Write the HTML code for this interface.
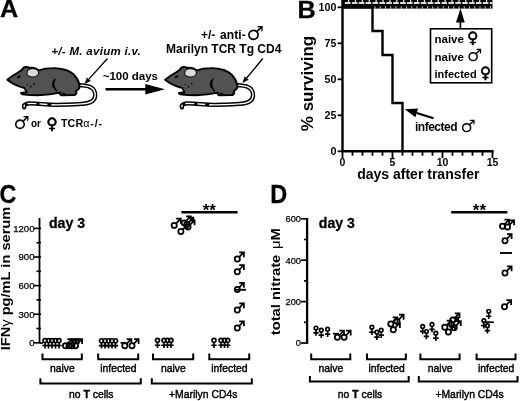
<!DOCTYPE html>
<html lang="en"><head><meta charset="utf-8"><title>Figure</title>
<style>html,body{margin:0;padding:0;background:#fff;}body{width:520px;height:401px;overflow:hidden;position:relative;}svg{position:absolute;left:0;top:0;display:block;}text{font-family:'Liberation Sans', 'DejaVu Sans', sans-serif;fill:#000;}</style>
</head><body>
<svg width="520" height="401" viewBox="0 0 520 401">
<rect x="0" y="0" width="520" height="401" fill="#fff"/>
<!-- Panel A -->
<text transform="translate(0.1,17.2) scale(1.04,1)" font-size="24.2" font-weight="bold" stroke="#000" stroke-width="0.3">A</text>
<text x="51.3" y="54.5" font-size="11.5" font-weight="bold" text-anchor="start" font-style="italic" letter-spacing="0.3">+/- M. avium i.v.</text>
<text x="102.7" y="80.4" font-size="11.5" font-weight="bold" text-anchor="start">~100 days</text>
<path d="M105.5,89.2 H147" stroke="#000" stroke-width="2.4" fill="none"/>
<path d="M145.3,84 L165,89.2 L145.3,94.4 Z" fill="#000"/>
<path d="M107.50,58.50 L88.85,79.17" stroke="#000" stroke-width="1.3" fill="none"/><path d="M84.50,84.00 L86.92,77.43 L90.78,80.91 Z" fill="#000"/>
<path d="M262.80,58.50 L246.65,77.99" stroke="#000" stroke-width="1.3" fill="none"/><path d="M242.50,83.00 L244.65,76.34 L248.65,79.65 Z" fill="#000"/>
<g transform="translate(0,0)"><path d="M78.5,85.2 C84,85.4 88,86 90.5,87.2 C94,89 95.4,92 95.2,95.6 C95,100.6 90,103.4 82,103.9 C70,104.6 60,105.2 50,104.7 C42,104.2 34,103.2 28.5,103.5 C25,103.9 23.4,105.4 24.2,107.4" fill="none" stroke="#000" stroke-width="4.3" stroke-linecap="round"/><path d="M78.5,85.2 C84,85.4 88,86 90.5,87.2 C94,89 95.4,92 95.2,95.6 C95,100.6 90,103.4 82,103.9 C70,104.6 60,105.2 50,104.7 C42,104.2 34,103.2 28.5,103.5 C25,103.9 23.4,105.4 24.2,107.4" fill="none" stroke="#fff" stroke-width="1.3" stroke-linecap="butt" stroke-dasharray="70 4 8 3 9 3 8 3 40"/><path d="M7.3,79.7 C10,77.5 14,74.6 18,72.5 L22.2,69.6 C22.8,67.8 24.6,66.8 26.8,67 C28,67 28.8,67.4 29.4,68 C31.5,67.4 36,67.6 38.7,70.4 C43,69 48,68.1 52.5,68.1 C57,68 62,68.6 66,70 C69,71 71.5,72.4 73.4,74.2 C76,76.8 78.4,80.4 79.4,84.4 C80,87.6 78.6,89.8 76.2,90.6 C76.6,92.4 76.4,94.4 74.6,95 L62.4,95.4 C60,95.4 59.4,93.6 60.4,92.6 C55,93.8 46,95 38,95.2 L30,95.1 L22.4,94.3 L21,93 L26.8,92.2 C26,91 25.2,89.6 24.6,88.2 C18.6,86.4 11.6,83.4 7.3,79.7 Z" fill="#525252" stroke="#000" stroke-width="1.9" stroke-linejoin="round"/><path d="M27.4,75.4 C26.2,72 27.6,69.2 31.5,68.8 C35.2,68.4 38.8,70 38.6,73 C38.4,76 34,77.4 31,76.9 Z" fill="#dadada" stroke="#000" stroke-width="1"/><ellipse cx="18.8" cy="76.8" rx="1.9" ry="1.2" fill="#000" transform="rotate(-28 18.8 76.8)"/><path d="M55.2,78.6 C53,82.6 53.4,87.6 57,91.4 M53.6,80.6 C52.4,83.6 52.6,86 53.4,87.6" fill="none" stroke="#000" stroke-width="1.4"/><path d="M33,83.4 l1.6,0.9 M30,86.4 l1.4,0.7 M27,84.5 l1,0.5" stroke="#000" stroke-width="1.2"/><path d="M62,92.4 L66,93.4 L63,96.2 Z" fill="#000"/></g>
<g transform="translate(157.8,0)"><path d="M78.5,85.2 C84,85.4 88,86 90.5,87.2 C94,89 95.4,92 95.2,95.6 C95,100.6 90,103.4 82,103.9 C70,104.6 60,105.2 50,104.7 C42,104.2 34,103.2 28.5,103.5 C25,103.9 23.4,105.4 24.2,107.4" fill="none" stroke="#000" stroke-width="4.3" stroke-linecap="round"/><path d="M78.5,85.2 C84,85.4 88,86 90.5,87.2 C94,89 95.4,92 95.2,95.6 C95,100.6 90,103.4 82,103.9 C70,104.6 60,105.2 50,104.7 C42,104.2 34,103.2 28.5,103.5 C25,103.9 23.4,105.4 24.2,107.4" fill="none" stroke="#fff" stroke-width="1.3" stroke-linecap="butt" stroke-dasharray="70 4 8 3 9 3 8 3 40"/><path d="M7.3,79.7 C10,77.5 14,74.6 18,72.5 L22.2,69.6 C22.8,67.8 24.6,66.8 26.8,67 C28,67 28.8,67.4 29.4,68 C31.5,67.4 36,67.6 38.7,70.4 C43,69 48,68.1 52.5,68.1 C57,68 62,68.6 66,70 C69,71 71.5,72.4 73.4,74.2 C76,76.8 78.4,80.4 79.4,84.4 C80,87.6 78.6,89.8 76.2,90.6 C76.6,92.4 76.4,94.4 74.6,95 L62.4,95.4 C60,95.4 59.4,93.6 60.4,92.6 C55,93.8 46,95 38,95.2 L30,95.1 L22.4,94.3 L21,93 L26.8,92.2 C26,91 25.2,89.6 24.6,88.2 C18.6,86.4 11.6,83.4 7.3,79.7 Z" fill="#525252" stroke="#000" stroke-width="1.9" stroke-linejoin="round"/><path d="M27.4,75.4 C26.2,72 27.6,69.2 31.5,68.8 C35.2,68.4 38.8,70 38.6,73 C38.4,76 34,77.4 31,76.9 Z" fill="#dadada" stroke="#000" stroke-width="1"/><ellipse cx="18.8" cy="76.8" rx="1.9" ry="1.2" fill="#000" transform="rotate(-28 18.8 76.8)"/><path d="M55.2,78.6 C53,82.6 53.4,87.6 57,91.4 M53.6,80.6 C52.4,83.6 52.6,86 53.4,87.6" fill="none" stroke="#000" stroke-width="1.4"/><path d="M33,83.4 l1.6,0.9 M30,86.4 l1.4,0.7 M27,84.5 l1,0.5" stroke="#000" stroke-width="1.2"/><path d="M62,92.4 L66,93.4 L63,96.2 Z" fill="#000"/></g>
<text x="13.4" y="128.6" font-size="18" style="font-family:'DejaVu Sans',sans-serif">♂</text>
<text x="31" y="127" font-size="10" font-weight="bold" text-anchor="start">or</text>
<text x="46.2" y="128.6" font-size="15.5" font-weight="bold" stroke="#000" stroke-width="0.7" style="font-family:'DejaVu Sans',sans-serif">♀</text>
<text x="61" y="127" font-size="10.8" font-weight="bold">TCR<tspan font-weight="normal" letter-spacing="0.7">α</tspan><tspan letter-spacing="0.9">-/-</tspan></text>
<text x="201" y="38.7" font-size="12" font-weight="bold">+/- <tspan dx="1.4" letter-spacing="0.1">anti-</tspan><tspan font-size="19.5" dy="1.3" dx="0.6" font-weight="normal" font-family="DejaVu Sans">♂</tspan></text>
<text x="166" y="52.5" font-size="12" font-weight="bold" text-anchor="start">Marilyn TCR Tg CD4</text>
<!-- Panel B -->
<text transform="translate(297.6,17.7) scale(1.08,1)" font-size="23.4" font-weight="bold" stroke="#000" stroke-width="0.3">B</text>
<rect x="342" y="0" width="150.5" height="8.6" fill="#000"/>
<path d="M344.9,3 H492.5" stroke="#dcdcdc" stroke-width="1.9" stroke-dasharray="5.6 1.3" fill="none"/>
<path d="M347.9,1 H492.5" stroke="#d8d8d8" stroke-width="2" stroke-dasharray="1.3 5.6" fill="none"/>
<path d="M374.5,7.5 H492.5" stroke="#c8c8c8" stroke-width="2.3" stroke-dasharray="1 4.25" fill="none"/>
<path d="M342.5,0 V151.2 H493.6" fill="none" stroke="#000" stroke-width="2.4"/>
<path d="M337.6,7.3 H343" stroke="#000" stroke-width="1.8"/>
<text x="336.4" y="10.9" font-size="10.7" font-weight="bold" text-anchor="end">100</text>
<path d="M337.6,43.3 H343" stroke="#000" stroke-width="1.8"/>
<text x="336.4" y="46.9" font-size="10.7" font-weight="bold" text-anchor="end">75</text>
<path d="M337.6,79.3 H343" stroke="#000" stroke-width="1.8"/>
<text x="336.4" y="82.9" font-size="10.7" font-weight="bold" text-anchor="end">50</text>
<path d="M337.6,115.3 H343" stroke="#000" stroke-width="1.8"/>
<text x="336.4" y="118.9" font-size="10.7" font-weight="bold" text-anchor="end">25</text>
<path d="M337.6,151.3 H343" stroke="#000" stroke-width="1.8"/>
<text x="336.4" y="154.9" font-size="10.7" font-weight="bold" text-anchor="end">0</text>
<path d="M342.5,151 V158.2" stroke="#000" stroke-width="1.8"/>
<path d="M352.5,151 V155.7" stroke="#000" stroke-width="1.8"/>
<path d="M362.5,151 V155.7" stroke="#000" stroke-width="1.8"/>
<path d="M372.5,151 V155.7" stroke="#000" stroke-width="1.8"/>
<path d="M382.5,151 V155.7" stroke="#000" stroke-width="1.8"/>
<path d="M392.5,151 V158.2" stroke="#000" stroke-width="1.8"/>
<path d="M402.5,151 V155.7" stroke="#000" stroke-width="1.8"/>
<path d="M412.5,151 V155.7" stroke="#000" stroke-width="1.8"/>
<path d="M422.5,151 V155.7" stroke="#000" stroke-width="1.8"/>
<path d="M432.5,151 V155.7" stroke="#000" stroke-width="1.8"/>
<path d="M442.5,151 V158.2" stroke="#000" stroke-width="1.8"/>
<path d="M452.5,151 V155.7" stroke="#000" stroke-width="1.8"/>
<path d="M462.5,151 V155.7" stroke="#000" stroke-width="1.8"/>
<path d="M472.5,151 V155.7" stroke="#000" stroke-width="1.8"/>
<path d="M482.5,151 V155.7" stroke="#000" stroke-width="1.8"/>
<path d="M492.5,151 V158.2" stroke="#000" stroke-width="1.8"/>
<text x="342.5" y="165.8" font-size="10.5" font-weight="bold" text-anchor="middle">0</text>
<text x="392.5" y="165.8" font-size="10.5" font-weight="bold" text-anchor="middle">5</text>
<text x="442.5" y="165.8" font-size="10.5" font-weight="bold" text-anchor="middle">10</text>
<text x="492.5" y="165.8" font-size="10.5" font-weight="bold" text-anchor="middle">15</text>
<path d="M342.5,7.2 H372.5 V31 H382.5 V55 H392.5 V103 H402.5 V151" fill="none" stroke="#000" stroke-width="2.4" stroke-linejoin="miter"/>
 <text transform="translate(313,83.5) rotate(-90)" font-size="17" font-weight="bold" text-anchor="middle">% surviving</text>
<text x="418.3" y="178.7" font-size="14" font-weight="bold" text-anchor="middle">days after transfer</text>
<rect x="430.5" y="28.8" width="61.2" height="54" fill="#fff" stroke="#000" stroke-width="1.6"/>
<path d="M460.4,28.8 V21" stroke="#000" stroke-width="1.7"/>
<path d="M460.4,8.6 L464.8,22.4 L456,22.4 Z" fill="#000"/>
<text x="434.5" y="43" font-size="11.5" font-weight="bold">naive <tspan font-size="15.5" font-family="DejaVu Sans" stroke="#000" stroke-width="0.6">♀</tspan></text>
<text x="434.5" y="61" font-size="11.5" font-weight="bold">naive <tspan font-size="17" font-weight="normal" font-family="DejaVu Sans">♂</tspan></text>
<text x="434.5" y="77.5" font-size="11" font-weight="bold">infected <tspan font-size="15.5" font-family="DejaVu Sans" stroke="#000" stroke-width="0.6">♀</tspan></text>
<text x="415" y="130.8" font-size="12" font-weight="bold" letter-spacing="-0.5">infected <tspan dy="1.6" dx="0.6" font-size="17" font-weight="normal" font-family="DejaVu Sans">♂</tspan></text>
<path d="M433.50,118.20 L416.73,112.94" stroke="#000" stroke-width="2.2" fill="none"/><path d="M404.80,109.20 L418.10,108.55 L415.35,117.33 Z" fill="#000"/>
<!-- Panel C -->
<text transform="translate(-0.4,203.1) scale(0.93,1)" font-size="25" font-weight="bold" stroke="#000" stroke-width="0.3">C</text>
<path d="M39.5,218 V343" stroke="#000" stroke-width="1.8" fill="none"/>
<path d="M34,342.8 H41" stroke="#000" stroke-width="1.6"/>
<text x="34.5" y="346.1" font-size="9.6" font-weight="normal" text-anchor="end" stroke="#000" stroke-width="0.25">0</text>
<path d="M36.4,328.5 H41" stroke="#000" stroke-width="1.6"/>
<path d="M34,314.2 H41" stroke="#000" stroke-width="1.6"/>
<text x="34.5" y="317.5" font-size="9.6" font-weight="normal" text-anchor="end" stroke="#000" stroke-width="0.25">300</text>
<path d="M36.4,299.9 H41" stroke="#000" stroke-width="1.6"/>
<path d="M34,285.6 H41" stroke="#000" stroke-width="1.6"/>
<text x="34.5" y="288.9" font-size="9.6" font-weight="normal" text-anchor="end" stroke="#000" stroke-width="0.25">600</text>
<path d="M36.4,271.3 H41" stroke="#000" stroke-width="1.6"/>
<path d="M34,257.0 H41" stroke="#000" stroke-width="1.6"/>
<text x="34.5" y="260.3" font-size="9.6" font-weight="normal" text-anchor="end" stroke="#000" stroke-width="0.25">900</text>
<path d="M36.4,242.7 H41" stroke="#000" stroke-width="1.6"/>
<path d="M34,228.4 H41" stroke="#000" stroke-width="1.6"/>
<text x="34.5" y="231.7" font-size="9.6" font-weight="normal" text-anchor="end" stroke="#000" stroke-width="0.25">1200</text>
<path d="M39.5,343 H43" stroke="#000" stroke-width="1.6"/>
<text transform="translate(10,278.5) rotate(-90) scale(1.22,1)" font-size="12" font-weight="bold" text-anchor="middle">IFN<tspan font-weight="normal">γ</tspan> pg/mL in serum</text>
<text x="49" y="227.7" font-size="14.1" font-weight="bold" text-anchor="start" stroke="#000" stroke-width="0.3">day 3</text>
<path d="M181.4,212.2 H237.6" stroke="#000" stroke-width="2.5"/>
<text x="209.3" y="216" font-size="17" font-weight="bold" text-anchor="middle">**</text>
<g fill="none" stroke="#000" stroke-width="1.65"><circle cx="45.00" cy="340.60" r="2.00"/><path d="M45.00,342.40 V348.40 M42.30,345.50 H47.70"/></g>
<g fill="none" stroke="#000" stroke-width="1.65"><circle cx="48.50" cy="340.60" r="2.00"/><path d="M48.50,342.40 V348.40 M45.80,345.50 H51.20"/></g>
<g fill="none" stroke="#000" stroke-width="1.65"><circle cx="52.00" cy="340.60" r="2.00"/><path d="M52.00,342.40 V348.40 M49.30,345.50 H54.70"/></g>
<g fill="none" stroke="#000" stroke-width="1.65"><circle cx="55.50" cy="340.60" r="2.00"/><path d="M55.50,342.40 V348.40 M52.80,345.50 H58.20"/></g>
<g fill="none" stroke="#000" stroke-width="1.65"><circle cx="59.00" cy="340.60" r="2.00"/><path d="M59.00,342.40 V348.40 M56.30,345.50 H61.70"/></g>
<g fill="none" stroke="#000" stroke-width="1.75"><circle cx="65.50" cy="345.70" r="2.60"/><path d="M67.30,343.90 L71.50,339.40 M67.40,339.00 H72.10 V344.00"/></g>
<g fill="none" stroke="#000" stroke-width="1.75"><circle cx="69.00" cy="345.70" r="2.60"/><path d="M70.80,343.90 L75.00,339.40 M70.90,339.00 H75.60 V344.00"/></g>
<g fill="none" stroke="#000" stroke-width="1.75"><circle cx="72.00" cy="345.70" r="2.60"/><path d="M73.80,343.90 L78.00,339.40 M73.90,339.00 H78.60 V344.00"/></g>
<g fill="none" stroke="#000" stroke-width="1.75"><circle cx="75.50" cy="345.70" r="2.60"/><path d="M77.30,343.90 L81.50,339.40 M77.40,339.00 H82.10 V344.00"/></g>
<g fill="none" stroke="#000" stroke-width="1.65"><circle cx="101.50" cy="340.70" r="2.00"/><path d="M101.50,342.50 V348.50 M98.80,345.60 H104.20"/></g>
<g fill="none" stroke="#000" stroke-width="1.65"><circle cx="105.00" cy="340.70" r="2.00"/><path d="M105.00,342.50 V348.50 M102.30,345.60 H107.70"/></g>
<g fill="none" stroke="#000" stroke-width="1.65"><circle cx="108.50" cy="340.70" r="2.00"/><path d="M108.50,342.50 V348.50 M105.80,345.60 H111.20"/></g>
<g fill="none" stroke="#000" stroke-width="1.65"><circle cx="112.00" cy="340.70" r="2.00"/><path d="M112.00,342.50 V348.50 M109.30,345.60 H114.70"/></g>
<g fill="none" stroke="#000" stroke-width="1.65"><circle cx="115.50" cy="340.70" r="2.00"/><path d="M115.50,342.50 V348.50 M112.80,345.60 H118.20"/></g>
<g fill="none" stroke="#000" stroke-width="1.75"><circle cx="124.80" cy="345.70" r="2.60"/><path d="M126.60,343.90 L130.80,339.40 M126.70,339.00 H131.40 V344.00"/></g>
<g fill="none" stroke="#000" stroke-width="1.75"><circle cx="132.00" cy="345.70" r="2.60"/><path d="M133.80,343.90 L138.00,339.40 M133.90,339.00 H138.60 V344.00"/></g>
<path d="M120.5,342.8 H125.8" stroke="#000" stroke-width="1.8"/>
<g fill="none" stroke="#000" stroke-width="1.65"><circle cx="157.50" cy="340.30" r="2.00"/><path d="M157.50,342.10 V348.10 M154.80,345.20 H160.20"/></g>
<g fill="none" stroke="#000" stroke-width="1.65"><circle cx="164.00" cy="340.30" r="2.00"/><path d="M164.00,342.10 V348.10 M161.30,345.20 H166.70"/></g>
<g fill="none" stroke="#000" stroke-width="1.65"><circle cx="167.50" cy="340.30" r="2.00"/><path d="M167.50,342.10 V348.10 M164.80,345.20 H170.20"/></g>
<g fill="none" stroke="#000" stroke-width="1.65"><circle cx="171.00" cy="340.30" r="2.00"/><path d="M171.00,342.10 V348.10 M168.30,345.20 H173.70"/></g>
<g fill="none" stroke="#000" stroke-width="1.65"><circle cx="214.00" cy="340.30" r="2.00"/><path d="M214.00,342.10 V348.10 M211.30,345.20 H216.70"/></g>
<g fill="none" stroke="#000" stroke-width="1.65"><circle cx="221.00" cy="340.30" r="2.00"/><path d="M221.00,342.10 V348.10 M218.30,345.20 H223.70"/></g>
<g fill="none" stroke="#000" stroke-width="1.65"><circle cx="224.50" cy="340.30" r="2.00"/><path d="M224.50,342.10 V348.10 M221.80,345.20 H227.20"/></g>
<g fill="none" stroke="#000" stroke-width="1.65"><circle cx="227.70" cy="340.30" r="2.00"/><path d="M227.70,342.10 V348.10 M225.00,345.20 H230.40"/></g>
<g fill="none" stroke="#000" stroke-width="1.75"><circle cx="174.20" cy="225.40" r="2.60"/><path d="M176.00,223.60 L180.20,219.10 M176.10,218.70 H180.80 V223.70"/></g>
<g fill="none" stroke="#000" stroke-width="1.75"><circle cx="180.90" cy="231.50" r="2.60"/><path d="M182.70,229.70 L186.90,225.20 M182.80,224.80 H187.50 V229.80"/></g>
<g fill="none" stroke="#000" stroke-width="1.75"><circle cx="184.20" cy="223.00" r="2.60"/><path d="M186.00,221.20 L190.20,216.70 M186.10,216.30 H190.80 V221.30"/></g>
<g fill="none" stroke="#000" stroke-width="1.75"><circle cx="188.00" cy="227.00" r="2.60"/><path d="M189.80,225.20 L194.00,220.70 M189.90,220.30 H194.60 V225.30"/></g>
<g fill="none" stroke="#000" stroke-width="1.75"><circle cx="186.80" cy="224.40" r="2.60"/><path d="M188.60,222.60 L192.80,218.10 M188.70,217.70 H193.40 V222.70"/></g>
<g fill="none" stroke="#000" stroke-width="1.75"><circle cx="237.30" cy="259.00" r="2.60"/><path d="M239.10,257.20 L243.30,252.70 M239.20,252.30 H243.90 V257.30"/></g>
<g fill="none" stroke="#000" stroke-width="1.75"><circle cx="237.30" cy="271.80" r="2.60"/><path d="M239.10,270.00 L243.30,265.50 M239.20,265.10 H243.90 V270.10"/></g>
<g fill="none" stroke="#000" stroke-width="1.75"><circle cx="237.30" cy="289.50" r="2.60"/><path d="M239.10,287.70 L243.30,283.20 M239.20,282.80 H243.90 V287.80"/></g>
<g fill="none" stroke="#000" stroke-width="1.75"><circle cx="237.30" cy="310.00" r="2.60"/><path d="M239.10,308.20 L243.30,303.70 M239.20,303.30 H243.90 V308.30"/></g>
<g fill="none" stroke="#000" stroke-width="1.75"><circle cx="237.30" cy="328.00" r="2.60"/><path d="M239.10,326.20 L243.30,321.70 M239.20,321.30 H243.90 V326.30"/></g>
<path d="M234,289.8 H246" stroke="#000" stroke-width="1.9"/>
<path d="M42.5,353.59999999999997 V359.2 H81.8 V353.59999999999997" fill="none" stroke="#000" stroke-width="2.0"/>
<text transform="translate(62.4,372.2) scale(1,1.12)" font-size="10.4" text-anchor="middle" stroke="#000" stroke-width="0.4">naive</text>
<path d="M98.2,353.59999999999997 V359.2 H138.2 V353.59999999999997" fill="none" stroke="#000" stroke-width="2.0"/>
<text transform="translate(118.4,372.2) scale(1,1.12)" font-size="10.4" text-anchor="middle" stroke="#000" stroke-width="0.4">infected</text>
<path d="M153,353.59999999999997 V359.2 H193.2 V353.59999999999997" fill="none" stroke="#000" stroke-width="2.0"/>
<text transform="translate(173.3,372.2) scale(1,1.12)" font-size="10.4" text-anchor="middle" stroke="#000" stroke-width="0.4">naive</text>
<path d="M209.3,353.59999999999997 V359.2 H249.2 V353.59999999999997" fill="none" stroke="#000" stroke-width="2.0"/>
<text transform="translate(229.4,372.2) scale(1,1.12)" font-size="10.4" text-anchor="middle" stroke="#000" stroke-width="0.4">infected</text>
<path d="M40.4,378.20000000000005 V383.6 H140.8 V378.20000000000005" fill="none" stroke="#000" stroke-width="2.0"/>
<path d="M151.8,378.20000000000005 V383.6 H251.8 V378.20000000000005" fill="none" stroke="#000" stroke-width="2.0"/>
<text transform="translate(91.3,398.2) scale(1,1.06)" font-size="10.4" text-anchor="middle" stroke="#000" stroke-width="0.4">no <tspan font-weight="bold">T</tspan> cells</text>
<text transform="translate(203.2,398.2) scale(1,1.06)" font-size="10.4" text-anchor="middle" stroke="#000" stroke-width="0.4">+Marilyn CD4s</text>
<!-- Panel D -->
<text transform="translate(270.2,203.1) scale(0.92,1)" font-size="25.5" font-weight="bold" stroke="#000" stroke-width="0.3">D</text>
<path d="M307.1,218 V343.9" stroke="#000" stroke-width="2.3" fill="none"/>
<path d="M301,343.0 H307.2" stroke="#000" stroke-width="1.7"/>
<text x="301" y="346.3" font-size="9.3" font-weight="normal" text-anchor="end" stroke="#000" stroke-width="0.25">0</text>
<path d="M304,322.3 H307.2" stroke="#000" stroke-width="1.7"/>
<path d="M301,301.6 H307.2" stroke="#000" stroke-width="1.7"/>
<text x="301" y="304.9" font-size="9.3" font-weight="normal" text-anchor="end" stroke="#000" stroke-width="0.25">200</text>
<path d="M304,280.9 H307.2" stroke="#000" stroke-width="1.7"/>
<path d="M301,260.2 H307.2" stroke="#000" stroke-width="1.7"/>
<text x="301" y="263.5" font-size="9.3" font-weight="normal" text-anchor="end" stroke="#000" stroke-width="0.25">400</text>
<path d="M304,239.5 H307.2" stroke="#000" stroke-width="1.7"/>
<path d="M301,218.8 H307.2" stroke="#000" stroke-width="1.7"/>
<text x="301" y="222.1" font-size="9.3" font-weight="normal" text-anchor="end" stroke="#000" stroke-width="0.25">600</text>
<text transform="translate(280.4,335.3) rotate(-90) scale(1.235,1)" font-size="12" font-weight="bold" text-anchor="start">total nitrate <tspan font-weight="normal" dx="1.2">μ</tspan>M</text>
<text x="318.8" y="228" font-size="14.1" font-weight="bold" text-anchor="start" stroke="#000" stroke-width="0.3">day 3</text>
<path d="M451.2,212.2 H507.4" stroke="#000" stroke-width="2.5"/>
<text x="479.4" y="216.2" font-size="17" font-weight="bold" text-anchor="middle">**</text>
<g fill="none" stroke="#000" stroke-width="1.65"><circle cx="316.00" cy="328.00" r="1.80"/><path d="M316.00,329.80 V335.80 M313.30,332.90 H318.70"/></g>
<g fill="none" stroke="#000" stroke-width="1.65"><circle cx="321.30" cy="330.20" r="1.80"/><path d="M321.30,332.00 V338.00 M318.60,335.10 H324.00"/></g>
<g fill="none" stroke="#000" stroke-width="1.65"><circle cx="327.60" cy="329.20" r="1.80"/><path d="M327.60,331.00 V337.00 M324.90,334.10 H330.30"/></g>
<g fill="none" stroke="#000" stroke-width="1.75"><circle cx="337.40" cy="337.30" r="2.60"/><path d="M339.20,335.50 L343.40,331.00 M339.30,330.60 H344.00 V335.60"/></g>
<g fill="none" stroke="#000" stroke-width="1.75"><circle cx="344.10" cy="337.30" r="2.60"/><path d="M345.90,335.50 L350.10,331.00 M346.00,330.60 H350.70 V335.60"/></g>
<path d="M333,333.7 H339" stroke="#000" stroke-width="1.8"/>
<g fill="none" stroke="#000" stroke-width="1.65"><circle cx="371.90" cy="327.20" r="1.80"/><path d="M371.90,329.00 V335.00 M369.20,332.10 H374.60"/></g>
<g fill="none" stroke="#000" stroke-width="1.65"><circle cx="376.90" cy="332.20" r="1.80"/><path d="M376.90,334.00 V340.00 M374.20,337.10 H379.60"/></g>
<g fill="none" stroke="#000" stroke-width="1.65"><circle cx="381.20" cy="330.20" r="1.80"/><path d="M381.20,332.00 V338.00 M378.50,335.10 H383.90"/></g>
<g fill="none" stroke="#000" stroke-width="1.75"><circle cx="390.80" cy="324.00" r="2.60"/><path d="M392.60,322.20 L396.80,317.70 M392.70,317.30 H397.40 V322.30"/></g>
<g fill="none" stroke="#000" stroke-width="1.75"><circle cx="393.30" cy="329.70" r="2.60"/><path d="M395.10,327.90 L399.30,323.40 M395.20,323.00 H399.90 V328.00"/></g>
<g fill="none" stroke="#000" stroke-width="1.75"><circle cx="397.00" cy="321.40" r="2.60"/><path d="M398.80,319.60 L403.00,315.10 M398.90,314.70 H403.60 V319.70"/></g>
<g fill="none" stroke="#000" stroke-width="1.65"><circle cx="422.70" cy="326.40" r="1.80"/><path d="M422.70,328.20 V334.20 M420.00,331.30 H425.40"/></g>
<g fill="none" stroke="#000" stroke-width="1.65"><circle cx="426.40" cy="331.50" r="1.80"/><path d="M426.40,333.30 V339.30 M423.70,336.40 H429.10"/></g>
<g fill="none" stroke="#000" stroke-width="1.65"><circle cx="432.00" cy="324.40" r="1.80"/><path d="M432.00,326.20 V332.20 M429.30,329.30 H434.70"/></g>
<g fill="none" stroke="#000" stroke-width="1.65"><circle cx="435.80" cy="333.20" r="1.80"/><path d="M435.80,335.00 V341.00 M433.10,338.10 H438.50"/></g>
<g fill="none" stroke="#000" stroke-width="1.75"><circle cx="444.80" cy="327.20" r="2.60"/><path d="M446.60,325.40 L450.80,320.90 M446.70,320.50 H451.40 V325.50"/></g>
<g fill="none" stroke="#000" stroke-width="1.75"><circle cx="448.40" cy="332.00" r="2.60"/><path d="M450.20,330.20 L454.40,325.70 M450.30,325.30 H455.00 V330.30"/></g>
<g fill="none" stroke="#000" stroke-width="1.75"><circle cx="451.60" cy="324.40" r="2.60"/><path d="M453.40,322.60 L457.60,318.10 M453.50,317.70 H458.20 V322.70"/></g>
<g fill="none" stroke="#000" stroke-width="1.75"><circle cx="454.20" cy="327.70" r="2.60"/><path d="M456.00,325.90 L460.20,321.40 M456.10,321.00 H460.80 V326.00"/></g>
<g fill="none" stroke="#000" stroke-width="1.75"><circle cx="452.90" cy="320.00" r="2.60"/><path d="M454.70,318.20 L458.90,313.70 M454.80,313.30 H459.50 V318.30"/></g>
<g fill="none" stroke="#000" stroke-width="1.65"><circle cx="483.90" cy="320.70" r="1.80"/><path d="M483.90,322.50 V328.50 M481.20,325.60 H486.60"/></g>
<g fill="none" stroke="#000" stroke-width="1.65"><circle cx="488.70" cy="311.30" r="1.80"/><path d="M488.70,313.10 V319.10 M486.00,316.20 H491.40"/></g>
<g fill="none" stroke="#000" stroke-width="1.65"><circle cx="487.40" cy="325.70" r="1.80"/><path d="M487.40,327.50 V333.50 M484.70,330.60 H490.10"/></g>
<path d="M483,322.2 H493.8" stroke="#000" stroke-width="1.8"/>
<g fill="none" stroke="#000" stroke-width="1.75"><circle cx="502.50" cy="226.30" r="2.60"/><path d="M504.30,224.50 L508.50,220.00 M504.40,219.60 H509.10 V224.60"/></g>
<g fill="none" stroke="#000" stroke-width="1.75"><circle cx="507.50" cy="227.00" r="2.60"/><path d="M509.30,225.20 L513.50,220.70 M509.40,220.30 H514.10 V225.30"/></g>
<g fill="none" stroke="#000" stroke-width="1.75"><circle cx="505.00" cy="240.80" r="2.60"/><path d="M506.80,239.00 L511.00,234.50 M506.90,234.10 H511.60 V239.10"/></g>
<g fill="none" stroke="#000" stroke-width="1.75"><circle cx="505.00" cy="273.00" r="2.60"/><path d="M506.80,271.20 L511.00,266.70 M506.90,266.30 H511.60 V271.30"/></g>
<g fill="none" stroke="#000" stroke-width="1.75"><circle cx="504.50" cy="306.80" r="2.60"/><path d="M506.30,305.00 L510.50,300.50 M506.40,300.10 H511.10 V305.10"/></g>
<path d="M500,253 H512" stroke="#000" stroke-width="1.9"/>
<path d="M311.2,353.59999999999997 V359.2 H350.3 V353.59999999999997" fill="none" stroke="#000" stroke-width="2.0"/>
<text transform="translate(330.9,372.2) scale(1,1.12)" font-size="10.4" text-anchor="middle" stroke="#000" stroke-width="0.4">naive</text>
<path d="M367,353.59999999999997 V359.2 H405.8 V353.59999999999997" fill="none" stroke="#000" stroke-width="2.0"/>
<text transform="translate(386.6,372.2) scale(1,1.12)" font-size="10.4" text-anchor="middle" stroke="#000" stroke-width="0.4">infected</text>
<path d="M420.4,353.59999999999997 V359.2 H459.6 V353.59999999999997" fill="none" stroke="#000" stroke-width="2.0"/>
<text transform="translate(440.2,372.2) scale(1,1.12)" font-size="10.4" text-anchor="middle" stroke="#000" stroke-width="0.4">naive</text>
<path d="M476.6,353.59999999999997 V359.2 H515.5 V353.59999999999997" fill="none" stroke="#000" stroke-width="2.0"/>
<text transform="translate(496.2,372.2) scale(1,1.12)" font-size="10.4" text-anchor="middle" stroke="#000" stroke-width="0.4">infected</text>
<path d="M309.9,376.0 V381.4 H408.7 V376.0" fill="none" stroke="#000" stroke-width="2.0"/>
<path d="M418.8,376.0 V381.4 H517.5 V376.0" fill="none" stroke="#000" stroke-width="2.0"/>
<text transform="translate(360.0,398.2) scale(1,1.06)" font-size="10.4" text-anchor="middle" stroke="#000" stroke-width="0.4">no <tspan font-weight="bold">T</tspan> cells</text>
<text transform="translate(469.6,398.2) scale(1,1.06)" font-size="10.4" text-anchor="middle" stroke="#000" stroke-width="0.4">+Marilyn CD4s</text>
</svg>
</body></html>
